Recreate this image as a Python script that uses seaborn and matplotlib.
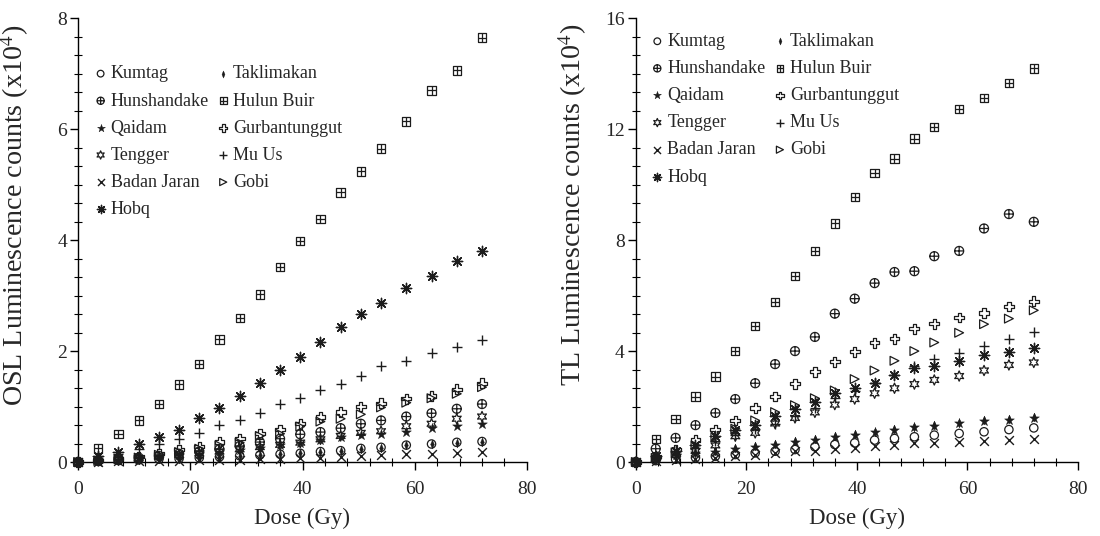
import numpy as np
import matplotlib
matplotlib.use("Agg")
import matplotlib.pyplot as plt
from matplotlib.path import Path
from matplotlib.ticker import MultipleLocator
import seaborn as sns

# ---------------- data ----------------
dose = [0, 3.6, 7.2, 10.8, 14.4, 18, 21.6, 25.2, 28.8, 32.4, 36, 39.6, 43.2,
        46.8, 50.4, 54, 58.5, 63, 67.5, 72]

series_names = ["Kumtag", "Hunshandake", "Qaidam", "Tengger", "Badan Jaran", "Hobq",
                "Taklimakan", "Hulun Buir", "Gurbantunggut", "Mu Us", "Gobi"]

# OSL (x10^4)
osl_kumtag = [0, 0.012, 0.027, 0.037, 0.052, 0.062, 0.077, 0.092, 0.112, 0.127, 0.142,
              0.158, 0.188, 0.205, 0.245, 0.265, 0.305, 0.325, 0.355, 0.37]
osl_hunshandake = [0, 0.025, 0.05, 0.08, 0.11, 0.15, 0.19, 0.23, 0.29, 0.36, 0.42,
                   0.50, 0.54, 0.61, 0.69, 0.75, 0.82, 0.88, 0.96, 1.045]
osl_qaidam = [0, 0.02, 0.045, 0.07, 0.09, 0.12, 0.15, 0.18, 0.22, 0.26, 0.30,
              0.35, 0.39, 0.45, 0.48, 0.51, 0.54, 0.615, 0.645, 0.69]
osl_tengger = [0, 0.02, 0.045, 0.07, 0.10, 0.13, 0.16, 0.19, 0.23, 0.27, 0.31,
               0.35, 0.41, 0.47, 0.525, 0.555, 0.645, 0.69, 0.78, 0.82]
osl_badan = [0, 0.005, 0.01, 0.015, 0.02, 0.025, 0.03, 0.035, 0.04, 0.05, 0.055,
             0.065, 0.08, 0.09, 0.11, 0.12, 0.14, 0.15, 0.155, 0.18]
osl_hobq = [0, 0.10, 0.18, 0.32, 0.45, 0.585, 0.79, 0.97, 1.19, 1.43, 1.66,
            1.90, 2.17, 2.44, 2.67, 2.87, 3.13, 3.35, 3.62, 3.81]
osl_taklimakan = [0, 0.01, 0.025, 0.035, 0.05, 0.06, 0.075, 0.09, 0.11, 0.125, 0.14,
                  0.155, 0.185, 0.20, 0.24, 0.26, 0.30, 0.32, 0.35, 0.36]
osl_hulun = [0, 0.245, 0.51, 0.75, 1.05, 1.40, 1.77, 2.21, 2.60, 3.02, 3.52,
             3.98, 4.38, 4.86, 5.24, 5.65, 6.14, 6.70, 7.06, 7.65]
osl_gurban = [0, 0.03, 0.06, 0.10, 0.15, 0.22, 0.28, 0.36, 0.42, 0.51, 0.585,
              0.69, 0.81, 0.90, 1.00, 1.06, 1.14, 1.19, 1.31, 1.42]
osl_muus = [0, 0.06, 0.15, 0.24, 0.33, 0.42, 0.53, 0.66, 0.75, 0.88, 1.05,
            1.16, 1.30, 1.40, 1.55, 1.73, 1.83, 1.96, 2.08, 2.20]
osl_gobi = [0, 0.02, 0.05, 0.08, 0.13, 0.18, 0.24, 0.30, 0.35, 0.47, 0.51,
            0.64, 0.73, 0.78, 0.86, 0.985, 1.07, 1.15, 1.23, 1.35]

# TL (x10^4)
tl_kumtag = [0, 0.05, 0.10, 0.16, 0.21, 0.27, 0.33, 0.39, 0.45, 0.55, 0.63,
             0.69, 0.79, 0.85, 0.91, 0.97, 1.03, 1.09, 1.17, 1.23]
tl_hunshandake = [0, 0.48, 0.87, 1.33, 1.77, 2.27, 2.84, 3.53, 4.00, 4.51, 5.35,
                  5.89, 6.45, 6.85, 6.88, 7.42, 7.61, 8.42, 8.94, 8.66]
tl_qaidam = [0, 0.12, 0.24, 0.31, 0.37, 0.48, 0.54, 0.63, 0.73, 0.81, 0.91,
             0.99, 1.07, 1.17, 1.25, 1.31, 1.39, 1.47, 1.53, 1.59]
tl_tengger = [0, 0.10, 0.25, 0.40, 0.60, 0.93, 1.05, 1.39, 1.59, 1.79, 2.07,
              2.27, 2.48, 2.66, 2.81, 2.96, 3.10, 3.30, 3.50, 3.59]
tl_badan = [0, 0.04, 0.08, 0.12, 0.15, 0.21, 0.24, 0.33, 0.39, 0.39, 0.48,
            0.51, 0.57, 0.61, 0.67, 0.67, 0.72, 0.75, 0.79, 0.84]
tl_hobq = [0, 0.20, 0.40, 0.63, 0.93, 1.17, 1.35, 1.67, 1.91, 2.18, 2.48,
           2.66, 2.84, 3.14, 3.38, 3.46, 3.65, 3.86, 3.98, 4.10]
tl_taklimakan = [0, 0.13, 0.26, 0.33, 0.40, 0.51, 0.57, 0.66, 0.76, 0.84, 0.94,
                 1.02, 1.10, 1.20, 1.28, 1.34, 1.42, 1.50, 1.56, 1.62]
tl_hulun = [0, 0.84, 1.56, 2.36, 3.08, 4.01, 4.90, 5.77, 6.70, 7.60, 8.60,
            9.56, 10.43, 10.94, 11.66, 12.08, 12.72, 13.13, 13.67, 14.19]
tl_gurban = [0, 0.20, 0.45, 0.79, 1.17, 1.50, 1.95, 2.36, 2.82, 3.26, 3.62,
             3.98, 4.30, 4.45, 4.81, 4.99, 5.21, 5.37, 5.61, 5.80]
tl_muus = [0, 0.10, 0.30, 0.50, 0.75, 0.98, 1.20, 1.38, 1.65, 1.95, 2.30,
           2.55, 2.86, 3.15, 3.45, 3.71, 3.94, 4.18, 4.45, 4.69]
tl_gobi = [0, 0.15, 0.35, 0.60, 0.90, 1.20, 1.50, 1.80, 2.05, 2.30, 2.58,
           2.99, 3.30, 3.65, 4.00, 4.31, 4.66, 4.97, 5.17, 5.47]

osl_values = [osl_kumtag, osl_hunshandake, osl_qaidam, osl_tengger, osl_badan, osl_hobq,
              osl_taklimakan, osl_hulun, osl_gurban, osl_muus, osl_gobi]
tl_values = [tl_kumtag, tl_hunshandake, tl_qaidam, tl_tengger, tl_badan, tl_hobq,
             tl_taklimakan, tl_hulun, tl_gurban, tl_muus, tl_gobi]

x_ticks = [0, 20, 40, 60, 80]
osl_yticks = [0, 2, 4, 6, 8]
tl_yticks = [0, 4, 8, 12, 16]

# ---------------- style ----------------
sns.set_style("ticks")
plt.rcParams["font.family"] = ["Liberation Serif", "DejaVu Serif"]
plt.rcParams["mathtext.fontset"] = "stix"

MV, LI = Path.MOVETO, Path.LINETO
box_plus = Path([[-1, -1], [1, -1], [1, 1], [-1, 1], [-1, -1],
                 [0, -1], [0, 1], [-1, 0], [1, 0]],
                [MV, LI, LI, LI, LI, MV, LI, MV, LI])
circ = Path.unit_circle()
circle_plus = Path.make_compound_path(
    circ, Path([[0, -1], [0, 1]], [MV, LI]), Path([[-1, 0], [1, 0]], [MV, LI]))
thin_diamond = Path([[0, 1], [0.42, 0], [0, -1], [-0.42, 0], [0, 1]],
                    [MV, LI, LI, LI, Path.CLOSEPOLY])

INK = "#1c1c1c"
# (marker, kind, size)
styles = {
    "Kumtag": ("o", "open", 36),
    "Hunshandake": (circle_plus, "open", 42),
    "Qaidam": ("*", "solid", 55),
    "Tengger": ((6, 1, 0), "open", 55),
    "Badan Jaran": ("x", "line", 40),
    "Hobq": ((8, 2, 0), "line", 55),
    "Taklimakan": (thin_diamond, "solid", 40),
    "Hulun Buir": (box_plus, "open", 36),
    "Gurbantunggut": ("P", "open", 50),
    "Mu Us": ("+", "line", 55),
    "Gobi": (">", "open", 40),
}


def draw(ax, values, yticks, ylabel, label_xy):
    handles = []
    for name, vals in zip(series_names, values):
        m, kind, s = styles[name]
        if kind == "open":
            kw = dict(facecolor="none", edgecolor=INK, linewidth=0.9, color=INK)
        elif kind == "solid":
            kw = dict(color=INK, edgecolor=INK, linewidth=0.3)
        else:
            kw = dict(color=INK, linewidth=1.0)
        sns.scatterplot(x=dose, y=vals, marker=m, s=s, ax=ax, label=name,
                        legend=False, clip_on=False, zorder=3, **kw)
        handles.append(ax.collections[-1])
    ax.set_xlim(0, 80)
    ax.set_ylim(yticks[0], yticks[-1])
    ax.set_xticks(x_ticks)
    ax.set_yticks(yticks)
    ax.xaxis.set_minor_locator(MultipleLocator(4))
    ax.yaxis.set_minor_locator(MultipleLocator((yticks[1] - yticks[0]) / 6))
    ax.tick_params(which="major", direction="out", length=6, width=1.0,
                   labelsize=14, color="black", pad=2)
    ax.tick_params(which="minor", direction="inout", length=6, width=0.8,
                   color="black")
    ax.tick_params(axis="x", which="major", pad=8)
    for sp in ["top", "right"]:
        ax.spines[sp].set_visible(False)
    for sp in ["left", "bottom"]:
        ax.spines[sp].set_linewidth(1.0)
        ax.spines[sp].set_color("black")
    ax.set_xlabel("Dose (Gy)", fontsize=16.5, labelpad=7)
    ax.set_ylabel(ylabel, fontsize=20.2)
    ax.yaxis.set_label_coords(*label_xy)
    return handles


fig = plt.figure(figsize=(11, 5.36), dpi=100)
ax1 = fig.add_axes([0.071, 0.138, 0.408, 0.828])
ax2 = fig.add_axes([0.578, 0.138, 0.402, 0.828])

h1 = draw(ax1, osl_values, osl_yticks, r"OSL Luminescence counts (x10$^{4}$)",
          (-0.105, 0.556))
h2 = draw(ax2, tl_values, tl_yticks, r"TL Luminescence counts (x10$^{4}$)",
          (-0.106, 0.581))

leg_kw = dict(ncol=2, frameon=False, fontsize=13, handletextpad=0.2,
              labelspacing=0.56, columnspacing=0.45, handlelength=0.7,
              borderaxespad=0.0, markerscale=0.8, loc="upper left")
ax1.legend(handles=h1, labels=series_names, bbox_to_anchor=(0.02, 0.91), **leg_kw)
ax2.legend(handles=h2, labels=series_names, bbox_to_anchor=(0.018, 0.983), **leg_kw)

fig.savefig("out.png", dpi=100)
